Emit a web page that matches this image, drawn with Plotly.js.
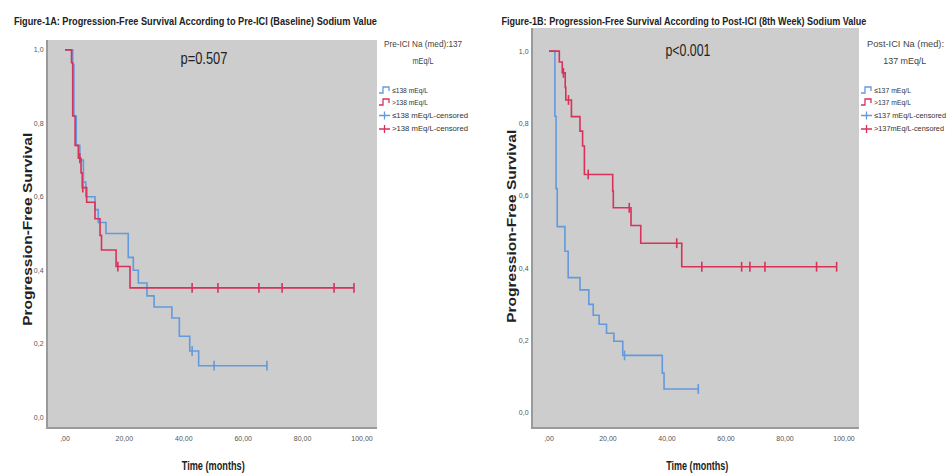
<!DOCTYPE html>
<html>
<head>
<meta charset="utf-8">
<script src="https://cdn.plot.ly/plotly-3.0.1.min.js"></script>
<style>html,body{margin:0;padding:0;background:#fff;}#chart{width:952px;height:476px;}</style>
</head>
<body>
<div id="chart"></div>
<script>
// ---------- Data ----------
// Figure 1A: baseline sodium
const timeA_low  = [0, 2.6, 3.0, 3.8, 5.0, 6.2, 7.0, 10.1, 11.2, 13.8, 21.3, 23.0, 24.7, 27.6, 30.0, 36.0, 38.5, 42.0, 45.0, 68.0];
const survA_low  = [1.0, 0.96, 0.82, 0.74, 0.70, 0.64, 0.60, 0.565, 0.53, 0.50, 0.435, 0.40, 0.365, 0.33, 0.30, 0.27, 0.22, 0.18, 0.14, 0.14];
const censA_low  = [42.8, 50.2, 68.0];

const timeA_high = [0, 2.2, 2.6, 3.4, 4.5, 5.4, 5.8, 7.3, 10.1, 11.8, 12.3, 17.2, 21.9, 97.3];
const survA_high = [1.0, 0.965, 0.82, 0.74, 0.705, 0.665, 0.625, 0.585, 0.54, 0.495, 0.455, 0.41, 0.352, 0.352];
const censA_high = [5.0, 6.0, 17.8, 42.8, 51.5, 65.3, 73.1, 90.6, 97.3];

// Figure 1B: 8th-week sodium
const timeB_low  = [0, 2.0, 2.4, 2.8, 5.4, 6.5, 10.5, 13.5, 15.0, 17.0, 19.5, 22.0, 25.0, 38.4, 39.0, 50.6];
const survB_low  = [1.0, 0.82, 0.62, 0.515, 0.447, 0.374, 0.34, 0.30, 0.27, 0.245, 0.22, 0.198, 0.159, 0.11, 0.066, 0.066];
const censB_low  = [25.6, 50.6];

const timeB_high = [0, 3.5, 4.5, 5.5, 5.7, 7.6, 10.5, 11.4, 12.0, 21.6, 21.8, 27.8, 31.1, 45.0, 97.5];
const survB_high = [1.0, 0.97, 0.94, 0.90, 0.865, 0.819, 0.779, 0.738, 0.659, 0.613, 0.567, 0.518, 0.469, 0.404, 0.404];
const censB_high = [4.9, 6.6, 13.3, 27.2, 43.3, 51.8, 65.3, 68.1, 73.2, 90.7, 97.5];

const xTickVals = [0, 20, 40, 60, 80, 100];
const xTickText = [",00", "20,00", "40,00", "60,00", "80,00", "100,00"];
const yTickVals = [0, 0.2, 0.4, 0.6, 0.8, 1.0];
const yTickText = ["0,0", "0,2", "0,4", "0,6", "0,8", "1,0"];

const labelsA = ["≤138 mEq/L", ">138 mEq/L", "≤138 mEq/L-censored", ">138 mEq/L-censored"];
const labelsB = ["≤137 mEq/L", ">137 mEq/L", "≤137 mEq/L-censored", ">137mEq/L-censored"];
const legendTitleA = ["Pre-ICI Na (med):137", "mEq/L"];
const legendTitleB = ["Post-ICI Na (med):", "137 mEq/L"];
const titleA = "Figure-1A: Progression-Free Survival According to Pre-ICI (Baseline) Sodium Value";
const titleB = "Figure-1B: Progression-Free Survival According to Post-ICI (8th Week) Sodium Value";
const pA = "p=0.507";
const pB = "p<0.001";
const xTitle = "Time (months)";
const yTitle = "Progression-Free Survival";

// ---------- Styling ----------
const BLUE = "#6399dd";
const RED = "#d9325a";
const FONT = "'Liberation Sans', Arial, sans-serif";
const W = 952, H = 476;
const px = x => x / W;
const py = y => 1 - y / H;

function stepAt(times, surv, t) {
  let s = surv[0];
  for (let i = 0; i < times.length; i++) { if (times[i] <= t) s = surv[i]; }
  return s;
}

function group(times, surv, cens, color, names, xa, ya) {
  return [
    {x: times, y: surv, type: "scatter", mode: "lines", line: {shape: "hv", color: color, width: 1.6},
     name: names[0], xaxis: xa, yaxis: ya, hoverinfo: "skip"},
    {x: cens, y: cens.map(t => stepAt(times, surv, t)), type: "scatter", mode: "markers",
     marker: {symbol: "line-ns-open", size: 7, color: color, line: {color: color, width: 1.6}},
     name: names[1], xaxis: xa, yaxis: ya, hoverinfo: "skip"}
  ];
}

const traces = [
  ...group(timeA_low, survA_low, censA_low, BLUE, [labelsA[0], labelsA[2]], "x", "y"),
  ...group(timeA_high, survA_high, censA_high, RED, [labelsA[1], labelsA[3]], "x", "y"),
  ...group(timeB_low, survB_low, censB_low, BLUE, [labelsB[0], labelsB[2]], "x2", "y2"),
  ...group(timeB_high, survB_high, censB_high, RED, [labelsB[1], labelsB[3]], "x2", "y2")
];

function xAxis(domain, range, anchor) {
  return {domain: domain, range: range, anchor: anchor, tickvals: xTickVals, ticktext: xTickText,
    showgrid: false, zeroline: false, showline: true, linecolor: "#9a9a9a", linewidth: 2, ticks: "",
    ticklabelstandoff: 4, tickfont: {family: FONT, size: 7, color: "#555"},
    automargin: false, fixedrange: true};
}
function yAxis(domain, range, anchor) {
  return {domain: domain, range: range, anchor: anchor, tickvals: yTickVals, ticktext: yTickText,
    showgrid: false, zeroline: false, showline: true, linecolor: "#9a9a9a", linewidth: 2, ticks: "",
    ticklabelstandoff: 1, tickfont: {family: FONT, size: 7, color: "#555"},
    automargin: false, fixedrange: true};
}

// annotations with target widths (text squeezed to the narrow look of the original)
const annots = [];
const widths = [];
function addText(text, x, y, size, width, opts) {
  opts = opts || {};
  annots.push({text: text, xref: "paper", yref: "paper", x: px(x), y: py(y),
    xanchor: opts.xanchor || "center", yanchor: "middle", align: opts.align || "center",
    showarrow: false, textangle: opts.angle || 0, borderpad: 0,
    font: {family: FONT, size: size, color: opts.color || "#222", weight: opts.weight || "normal"}});
  widths.push(width);
}

addText(titleA, 195, 21, 11, 363, {weight: "bold"});
addText(titleB, 683.5, 21, 11, 365, {weight: "bold"});
addText(pA, 203.5, 58, 17, 47);
addText(pB, 688, 51, 17, 45);
addText(xTitle, 213, 466, 12, 63, {weight: "bold"});
addText(xTitle, 696.5, 466, 12, 62, {weight: "bold"});
addText(yTitle, 28, 230, 12, 193, {weight: "bold", angle: -90});
addText(yTitle, 512, 227, 12, 193, {weight: "bold", angle: -90});

// legends
const shapes = [];
function legend(edge, titleLines, titleCx, labels, titleWidths, textWidths) {
  addText(titleLines[0], titleCx, 44, 9, titleWidths[0], {color: "#444"});
  addText(titleLines[1], titleCx, 61, 9, titleWidths[1], {color: "#444"});
  const rows = [90, 102, 115.5, 129];
  const colors = [BLUE, RED, BLUE, RED];
  rows.forEach((ry, i) => {
    const x0 = edge + 2;
    let path;
    if (i < 2) {
      path = `M ${px(x0)} ${py(ry + 3)} H ${px(x0 + 4)} V ${py(ry - 3)} H ${px(x0 + 10)} V ${py(ry + 1)}`;
    } else {
      path = `M ${px(x0)} ${py(ry)} H ${px(x0 + 11)} M ${px(x0 + 5.5)} ${py(ry - 4)} V ${py(ry + 4)}`;
    }
    shapes.push({type: "path", xref: "paper", yref: "paper", path: path,
      line: {color: colors[i], width: 1.3}});
    addText(labels[i], edge + 14, ry, 7.3, textWidths[i], {xanchor: "left", align: "left", color: "#333"});
  });
}
legend(377, legendTitleA, 423, labelsA, [78, 21], [36, 36, 76, 76]);
legend(859, legendTitleB, 905, labelsB, [77, 43], [37, 37, 72, 70]);

const layout = {
  width: W, height: H,
  margin: {l: 0, r: 0, t: 0, b: 0},
  paper_bgcolor: "#ffffff", plot_bgcolor: "#cdcdcd",
  showlegend: false,
  xaxis: xAxis([48/W, 377/W], [-5.72, 105.05], "y"),
  yaxis: yAxis([1 - 427/H, 1 - 40/H], [-0.027, 1.027], "x"),
  xaxis2: xAxis([533/W, 859/W], [-5.42, 105.08], "y2"),
  yaxis2: yAxis([1 - 427/H, 1 - 28/H], [-0.039, 1.064], "x2"),
  annotations: annots,
  shapes: shapes
};

Plotly.newPlot("chart", traces, layout, {staticPlot: true, displayModeBar: false}).then(gd => {
  gd.querySelectorAll("g.annotation").forEach(g => {
    const idx = +g.getAttribute("data-index");
    const t = g.querySelector("text.annotation-text");
    if (t && widths[idx]) {
      t.setAttribute("textLength", widths[idx]);
      t.setAttribute("lengthAdjust", "spacingAndGlyphs");
    }
  });
});
</script>
</body>
</html>
